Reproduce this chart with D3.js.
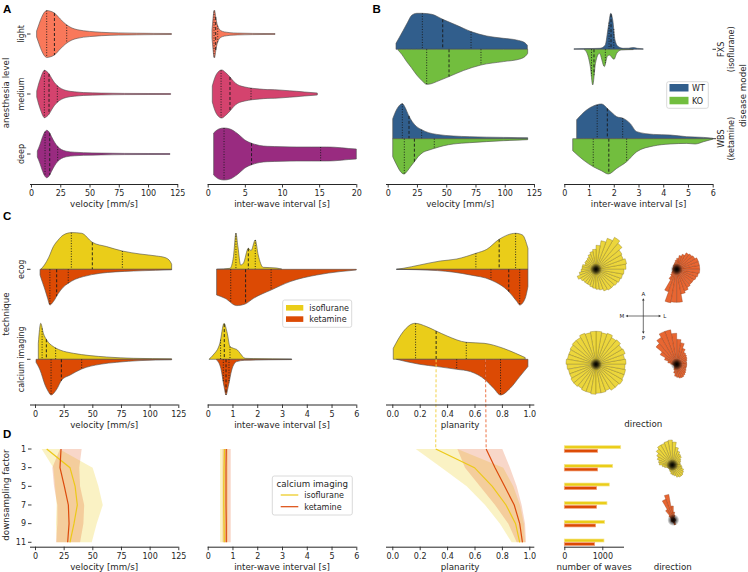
<!DOCTYPE html>
<html><head><meta charset="utf-8">
<script src="https://cdn.jsdelivr.net/npm/d3@7"></script>
<style>body{margin:0;background:#fff}svg{display:block}</style>
</head><body><script>
// ---------------- DATA ----------------
const anesthesiaLevels = ["light","medium","deep"];
const diseaseModels = ["FXS","WBS"];
const diseaseSub = ["(isoflurane)","(ketamine)"];
const techniques = ["ecog","calcium imaging"];
const downsampling = [1,3,5,7,9,11];

const velTicks = [0,25,50,75,100,125];
const iwiTicksA = [0,5,10,15,20];
const iwiTicks = [0,1,2,3,4,5,6];
const planTicks = [0,0.2,0.4,0.6,0.8,1.0];
const wavesTicks = [0,1000];

// Panel A: [value, relative density] profiles + quartiles
const velLight = [[4.8,3],[6,7],[7.5,12],[9,16.5],[11,21],[13.5,23.5],[16,23],[20,21],[25,15],[30,9.5],[35,6],[40,4.2],[50,2.6],[60,1.7],[75,1.1],[90,0.8],[105,0.6],[120,0.5]];
const velLightQ = [13.4,20,30.5];
const velMedium = [[4.9,3],[6.5,10],[8.5,17],[10,21.5],[11.5,23.7],[13.5,22.5],[15.5,20],[18,15],[20,11.5],[22.5,8.3],[26,5.3],[30,3.5],[37,2.2],[45,1.4],[60,0.9],[80,0.6],[100,0.5],[119.3,0.4]];
const velMediumQ = [11.4,15.4,22.5];
const velDeep = [[5.4,3],[7.5,9],[9.5,16],[11.5,21.5],[13.4,23.7],[15.5,22],[17.5,17.5],[20,12],[22.8,7.5],[26,4.5],[30,2.8],[37,1.8],[45,1.3],[60,0.9],[80,0.6],[100,0.5],[118.7,0.4]];
const velDeepQ = [12,16,22.8];
const iwiLight = [[0.58,4],[0.7,14],[0.8,21],[0.9,24],[1.0,21],[1.1,16],[1.3,9],[1.6,4.5],[2.0,2.6],[2.5,1.8],[3,1.3],[4,0.9],[6,0.6],[9.06,0.4]];
const iwiLightQ = [0.85,1.08,1.35];
const iwiMedium = [[0.62,8],[1.0,17],[1.4,22],[1.88,24],[2.4,21.5],[3.0,17],[3.5,12.5],[4.0,9.5],[5.0,7],[6,5.7],[7,5],[8,4.4],[9,4.3],[10,3.8],[11,3.2],[12,2.7],[13,2],[14.75,1]];
const iwiMediumQ = [1.8,3.0,5.83];
const iwiDeep = [[0.8,21],[1.5,25],[2.2,26],[3,25],[4,20.5],[5,14],[6,10.5],[7,8.5],[8,7.7],[10,7.3],[12,7],[14,7],[16,7],[17,6.8],[18,6.2],[19,5.5],[20,5]];
const iwiDeepQ = [2.2,5.9,15.2];

// Panel B
const fxsVelWT = [[7.1,6],[10,12],[13.3,19],[17,27],[20.5,34],[25,36],[29,36],[37.6,35],[47,30],[59,24],[71.2,17.7],[84.6,13.3],[98.8,11],[110,9.3],[117,6.7],[119.3,4]];
const fxsVelWTQ = [29.6,47,71.2];
const fxsVelKO = [[9,1],[12,5],[16.2,12.3],[20,18],[24.8,25.7],[29,31],[33.3,35],[37,34.5],[41.9,32.3],[52.4,27.3],[64.6,21.3],[79.7,15.7],[98.8,12.3],[113,9.7],[118.6,5.7],[119.6,4]];
const fxsVelKOQ = [33.3,52.4,79.7];
const wbsVelWT = [[4.3,20],[8,30],[12.5,35],[15,31],[17.6,24],[21,17],[24.8,12],[29,9],[35,6],[42,4.3],[56,2.7],[70,2],[99,1.3],[119.6,1]];
const wbsVelWTQ = [12.5,18.2,29];
const wbsVelKO = [[4.3,18],[8,27],[11,33],[13.9,35.3],[17,32],[19.5,28],[22.8,23],[26,18],[30.4,13.5],[35,11.5],[39.8,9.7],[48,7],[56,5.3],[70,4],[99,2],[119.6,1]];
const wbsVelKOQ = [14.2,22.8,39.8];
const fxsIwiWT = [[0.39,0.5],[1.0,0.7],[1.44,1],[1.65,4],[1.78,22.7],[1.88,36],[1.96,29],[2.05,9.3],[2.18,2.7],[2.38,1],[2.6,1.1],[2.79,1.7],[2.95,1],[3.19,0.5]];
const fxsIwiWTQ = [1.81,1.89,2.0];
const fxsIwiKO = [[0.81,0.3],[0.95,6],[1.05,17],[1.15,35.7],[1.26,14],[1.42,4],[1.62,17.3],[1.74,7],[1.82,5.7],[2.01,10],[2.12,4],[2.3,0.7],[2.79,0.3]];
const fxsIwiKOQ = [1.1,1.2,1.66];
const wbsIwiWT = [[0.5,19],[0.9,28.7],[1.2,33],[1.51,34.7],[1.74,30.3],[1.95,25.5],[2.12,22],[2.39,20.3],[2.66,15.3],[2.93,7],[3.6,4.3],[4.28,3.7],[4.95,2],[5.63,1.3],[6,0.5]];
const wbsIwiWTQ = [1.33,1.74,2.36];
const wbsIwiKO = [[0.34,12],[0.77,21.3],[1.17,28],[1.5,32],[1.78,35.3],[2.12,29.7],[2.52,23],[2.93,13],[3.6,7.3],[4.28,5.3],[4.95,4.7],[5.29,5.3],[5.63,3],[6,0.5]];
const wbsIwiKOQ = [1.17,1.8,2.52];

// Panel C
const ecogVelIso = [[5,0],[8.2,4.3],[12,12],[16,22.7],[20,29],[24.7,34.3],[32,36.7],[40.7,36],[50,27],[62.5,22.7],[76.2,18.3],[91.6,15.3],[106,13.3],[113.5,11.7],[118,7.7],[119.2,5]];
const ecogVelIsoQ = [31.7,50,76.2];
const ecogVelKet = [[4.4,5.7],[6.5,13],[8.8,20.7],[11,29],[13,35.7],[16,32.3],[20.4,24],[24.5,18],[29,14],[35,10],[42.2,7.3],[56.7,4],[70,2.6],[86,1.7],[105,1],[119.2,0.5]];
const ecogVelKetQ = [13,18.9,29];
const caVelIso = [[2.9,16],[5,36],[7.3,26],[10.2,19.3],[16,12.7],[21.8,9.3],[33.5,6],[48,3.7],[62.5,2.3],[86,1],[119.2,0.5]];
const caVelIsoQ = [6.2,9.9,18];
const caVelKet = [[0.9,3],[4.4,10.7],[8.8,25.7],[11.5,32],[14,35.7],[18.9,30],[23.3,20.7],[30.7,15.7],[40.7,9.7],[56.7,5],[71.3,3],[91.6,1.3],[119.2,0.5]];
const caVelKetQ = [14,23,40.7];
const ecogIwiIso = [[0.36,0],[0.9,1],[1.04,12.7],[1.14,36],[1.22,22.7],[1.33,4.3],[1.44,6],[1.64,21],[1.75,18.7],[1.92,29.3],[2.04,14.3],[2.24,2],[2.78,1.3],[2.9,0.7],[2.99,0.3]];
const ecogIwiIsoQ = [1.14,1.64,1.92];
const ecogIwiKet = [[0.36,25.7],[0.7,29],[1.17,36.3],[1.51,34.7],[1.85,29],[2.56,20.7],[3.33,12.3],[4.4,5.7],[5.34,2.3],[6,0.7]];
const ecogIwiKetQ = [0.93,1.53,2.56];
const caIwiIso = [[0.05,0],[0.22,4.3],[0.49,16],[0.66,36],[0.79,26],[0.9,12.7],[1.04,11],[1.2,9.3],[1.31,6],[1.51,1],[1.84,0.7],[3.39,0.3]];
const caIwiIsoQ = [0.52,0.67,0.9];
const caIwiKet = [[0.36,0.7],[0.53,9],[0.66,27.3],[0.74,35.7],[0.83,27.3],[0.97,10.7],[1.17,2.3],[1.5,1],[3.39,0.3]];
const caIwiKetQ = [0.63,0.74,0.86];
const ecogPlanIso = [[0.03,0],[0.08,1],[0.2,4.3],[0.35,8.3],[0.47,10.3],[0.61,16],[0.69,20],[0.78,30],[0.9,36],[0.95,34.3],[0.99,21]];
const ecogPlanIsoQ = [0.61,0.78,0.9];
const ecogPlanKet = [[0.03,0],[0.33,1.3],[0.57,5.7],[0.72,10.7],[0.85,22.3],[0.91,32.3],[0.93,35.7],[0.97,29],[0.99,17.3]];
const ecogPlanKetQ = [0.72,0.85,0.93];
const caPlanIso = [[0.007,11],[0.08,27.7],[0.165,36],[0.25,32.7],[0.32,28.3],[0.4,23.3],[0.54,17],[0.67,16],[0.81,11],[0.9,6],[0.97,1.7]];
const caPlanIsoQ = [0.17,0.32,0.54];
const caPlanKet = [[0.03,0],[0.2,5],[0.33,7.3],[0.47,10],[0.57,12.3],[0.68,20.7],[0.74,29],[0.79,35.7],[0.86,29],[0.93,17.3],[0.99,7.3]];
const caPlanKetQ = [0.47,0.68,0.79];

// direction roses: 36 bins of 10 deg, counter-clockwise from lateral (right)
const roseEcogIso = [30,31,29,30,34,37,33,29,24,20,18,16,14,13,13,12,14,14,15,17,20,18,17,17,17,18,19,20,21,23,24,24,25,26,27,28];
const roseEcogKet = [23,23,23,21,20,19,16,14,11,9,7,6,5,5,4,4,4,4,4,4,5,6,8,12,24,34,33,33,25,23,21,20,20,21,22,23];
const roseCaIso = [30,29,31,30,32,31,33,32,33,33,32,33,31,31,30,29,29,30,29,28,28,29,29,28,29,29,30,29,29,28,30,30,31,30,30,29];
const roseCaKet = [10,10,11,12,13,14,17,22,25,31,35,35,31,27,19,13,9,6,4,3,3,3,3,4,6,9,12,13,14,14,13,12,11,10,10,10];
const roseDIso = [8,8,9,10,12,13,15,18,23,25,24,23,23,21,18,16,14,13,10,8,6,5,5,5,6,7,9,10,11,13,14,14,13,12,10,9];
const roseDKet = [2,2,2,2,2,2,2,5,8,14,26,22,12,6,3,2,2,2,2,2,2,2,2,2,2,2,2,3,5,5,3,2,2,2,2,2];

// Panel D (per downsampling factor)
const dVelIsoMean = [10.2,30.5,35,36.9,34,30.5];
const dVelIsoLo = [5.8,16,17.5,18.9,18.3,18.9];
const dVelIsoHi = [21,50.3,55.3,59.1,53.8,49.5];
const dVelKetMean = [22.7,21.8,25.6,29.1,29.7,28.5];
const dVelKetLo = [21.8,15.1,16.6,19.5,19.5,18.3];
const dVelKetHi = [40.7,38.6,39.3,42.9,42.2,39.3];
const dIwiIsoMean = [0.68,0.66,0.65,0.65,0.66,0.67];
const dIwiIsoLo = [0.5,0.5,0.5,0.5,0.5,0.5];
const dIwiIsoHi = [0.82,0.82,0.82,0.82,0.82,0.82];
const dIwiKetMean = [0.75,0.74,0.74,0.74,0.75,0.75];
const dIwiKetLo = [0.6,0.6,0.6,0.6,0.6,0.6];
const dIwiKetHi = [0.93,0.93,0.93,0.93,0.93,0.93];
const dPlanIsoMean = [0.317,0.60,0.73,0.83,0.90,0.93];
const dPlanIsoLo = [0.171,0.36,0.543,0.677,0.786,0.871];
const dPlanIsoHi = [0.475,0.81,0.883,0.932,0.961,0.969];
const dPlanKetMean = [0.685,0.75,0.82,0.89,0.93,0.95];
const dPlanKetLo = [0.475,0.531,0.64,0.75,0.847,0.908];
const dPlanKetHi = [0.803,0.859,0.908,0.944,0.969,0.976];
const dWavesIso = [1484,1273,1184,1123,1062,1044];
const dWavesKet = [878,878,851,851,825,799];

// ---------------- STYLE ----------------
const TXT = "#262626";
const FONT = '"DejaVu Sans", sans-serif';
const levelColors = ["#f9785a","#d4436e","#992b80"];
const wtColor = "#315e8c", koColor = "#72be3e";
const isoColor = "#eacd19", ketColor = "#dc4a04";
const roseIsoColor = "#ecd63c", roseKetColor = "#e86632";

const svg = d3.select("body").append("svg").attr("width",748).attr("height",572)
  .attr("font-family",FONT);
const defs = svg.append("defs");
const rg = defs.append("radialGradient").attr("id","rc");
rg.append("stop").attr("offset","0").attr("stop-color","#000").attr("stop-opacity",1);
rg.append("stop").attr("offset","0.35").attr("stop-color","#000").attr("stop-opacity",0.75);
rg.append("stop").attr("offset","1").attr("stop-color","#000").attr("stop-opacity",0);

// ---------------- SCALES ----------------
const xA1 = d3.scaleLinear([0,125],[31,177.3]);
const xA2 = d3.scaleLinear([0,20],[207.7,356.3]);
const xB1 = d3.scaleLinear([0,125],[387.7,534]);
const xB2 = d3.scaleLinear([0,6],[564.3,712.7]);
const xC1 = d3.scaleLinear([0,125],[35,178.3]);
const xC2 = d3.scaleLinear([0,6],[207.7,356.3]);
const xC3 = d3.scaleLinear([0,1],[392.3,529.3]);
const xD4 = d3.scaleLinear([0,1000],[564.3,602.3]);
const rowA = d3.scalePoint(anesthesiaLevels,[34,154]);
const rowB = d3.scalePoint(diseaseModels,[49.3,138.7]);
const rowC = d3.scalePoint(techniques,[269.3,359.3]);
const yD = d3.scaleLinear([1,11],[449,542.3]);
const wScale = d3.scaleLinear([0,36],[0,36]);
const rScale = d3.scaleLinear([0,40],[0,40]);

// ---------------- HELPERS ----------------
function interp(data, v){
  for (let i=0;i<data.length-1;i++){
    const [a,da]=data[i],[b,db]=data[i+1];
    if (v>=a && v<=b) return da+(db-da)*(v-a)/(b-a);
  }
  return 0;
}
function violin(data, q, x, cy, side, color){
  const top = d => side<=0 ? cy - wScale(d[1]) : cy;
  const bot = d => side>=0 ? cy + wScale(d[1]) : cy;
  const area = d3.area().curve(d3.curveMonotoneX).x(d=>x(d[0])).y0(bot).y1(top);
  svg.append("path").attr("d",area(data)).attr("fill",color)
    .attr("stroke","#4d4d4d").attr("stroke-width",0.6).attr("stroke-linejoin","round");
  q.forEach((v,i)=>{
    const h = wScale(interp(data,v));
    svg.append("line").attr("x1",x(v)).attr("x2",x(v))
      .attr("y1", side<=0 ? cy-h : cy).attr("y2", side>=0 ? cy+h : cy)
      .attr("stroke","#1a1a1a").attr("stroke-width",0.9)
      .attr("stroke-dasharray", i===1 ? "3,2" : "1,1.6");
  });
}
function xAxis(scale, y, ticks, fmt, x0, x1, title){
  const g = svg.append("g").attr("transform",`translate(0,${y})`)
    .call(d3.axisBottom(scale).tickValues(ticks).tickFormat(fmt).tickSize(3.5).tickPadding(3));
  g.attr("font-family",FONT).attr("font-size",8);
  g.select(".domain").attr("d",`M${x0},0.5H${x1}`).attr("stroke",TXT).attr("stroke-width",1);
  g.selectAll(".tick line").attr("stroke",TXT).attr("stroke-width",0.9);
  g.selectAll(".tick text").attr("fill",TXT);
  if (title) svg.append("text").attr("x",(x0+x1)/2).attr("y",y+23).attr("text-anchor","middle")
    .attr("font-size",8.7).attr("fill",TXT).text(title);
}
function vText(x, y, s, size){
  svg.append("text").attr("transform",`translate(${x},${y}) rotate(-90)`).attr("text-anchor","middle")
    .attr("dy","0.35em").attr("font-size",size).attr("fill",TXT).text(s);
}
function hTick(x1,x2,y){
  svg.append("line").attr("x1",x1).attr("x2",x2).attr("y1",y).attr("y2",y).attr("stroke",TXT).attr("stroke-width",0.9);
}
function panelLabel(s,x,y){
  svg.append("text").attr("x",x).attr("y",y).attr("font-family",'"Liberation Sans", Arial, sans-serif')
    .attr("font-weight","bold").attr("font-size",11.5).attr("fill","#000").text(s);
}
function legendBox(x,y,w,h){
  svg.append("rect").attr("x",x).attr("y",y).attr("width",w).attr("height",h).attr("rx",2)
    .attr("fill","#fff").attr("fill-opacity",0.85).attr("stroke","#d0d0d0").attr("stroke-width",0.8);
}
function rose(cx, cy, vals, fill, edge){
  const g = svg.append("g").attr("transform",`translate(${cx},${cy})`);
  const step = 2*Math.PI/vals.length;
  const arc = d3.arc().innerRadius(0);
  vals.forEach((v,i)=>{
    g.append("path").attr("d",arc({outerRadius:rScale(v),startAngle:Math.PI/2-(i+1)*step,endAngle:Math.PI/2-i*step}))
      .attr("fill",fill).attr("stroke",edge).attr("stroke-width",0.4).attr("stroke-opacity",0.8);
  });
  g.append("circle").attr("r",6).attr("fill","url(#rc)");
}
function band(lo, hi, x, color, op){
  const pts = downsampling.map((f,i)=>({f, lo:lo[i], hi:hi[i]}));
  svg.append("path").attr("d", d3.area().y(d=>yD(d.f)).x0(d=>x(d.lo)).x1(d=>x(d.hi))(pts))
    .attr("fill",color).attr("fill-opacity",op);
}
function meanLine(vals, x, color){
  const pts = downsampling.map((f,i)=>[f, vals[i]]);
  svg.append("path").attr("d", d3.line().x(d=>x(d[1])).y(d=>yD(d[0]))(pts))
    .attr("fill","none").attr("stroke",color).attr("stroke-width",1.2);
}

// ---------------- PANEL A ----------------
panelLabel("A",3,13);
vText(6,93,"anesthesia level",8.7);
const levelVel=[velLight,velMedium,velDeep], levelVelQ=[velLightQ,velMediumQ,velDeepQ];
const levelIwi=[iwiLight,iwiMedium,iwiDeep], levelIwiQ=[iwiLightQ,iwiMediumQ,iwiDeepQ];
anesthesiaLevels.forEach((lv,i)=>{
  violin(levelVel[i], levelVelQ[i], xA1, rowA(lv), 0, levelColors[i]);
  violin(levelIwi[i], levelIwiQ[i], xA2, rowA(lv), 0, levelColors[i]);
  vText(20.7, rowA(lv), lv, 8);
  hTick(27, 30.5, rowA(lv));
});
xAxis(xA1,184,velTicks,d3.format("d"),30,178,"velocity [mm/s]");
xAxis(xA2,184,iwiTicksA,d3.format("d"),207.7,356.3,"inter-wave interval [s]");

// ---------------- PANEL B ----------------
panelLabel("B",372.5,13);
const bVel=[[fxsVelWT,fxsVelWTQ,fxsVelKO,fxsVelKOQ],[wbsVelWT,wbsVelWTQ,wbsVelKO,wbsVelKOQ]];
const bIwi=[[fxsIwiWT,fxsIwiWTQ,fxsIwiKO,fxsIwiKOQ],[wbsIwiWT,wbsIwiWTQ,wbsIwiKO,wbsIwiKOQ]];
diseaseModels.forEach((m,i)=>{
  const cy=rowB(m);
  violin(bVel[i][0],bVel[i][1],xB1,cy,-1,wtColor);
  violin(bVel[i][2],bVel[i][3],xB1,cy,1,koColor);
  violin(bIwi[i][0],bIwi[i][1],xB2,cy,-1,wtColor);
  violin(bIwi[i][2],bIwi[i][3],xB2,cy,1,koColor);
  hTick(712.5,716,cy);
  vText(721,cy,m,8);
  vText(731,cy,diseaseSub[i],8);
});
vText(742.5,95.5,"disease model",8.7);
xAxis(xB1,184,velTicks,d3.format("d"),386,534.3,"velocity [mm/s]");
xAxis(xB2,184,iwiTicks,d3.format("d"),564.3,713,"inter-wave interval [s]");
legendBox(666.7,81.7,41.6,26.6);
[["WT",wtColor,84],["KO",koColor,96.8]].forEach(([t,c,y])=>{
  svg.append("rect").attr("x",669.5).attr("y",y).attr("width",19).attr("height",7.5).attr("fill",c);
  svg.append("text").attr("x",692).attr("y",y+6.8).attr("font-size",8).attr("fill",TXT).text(t);
});

// ---------------- PANEL C ----------------
panelLabel("C",3,219.5);
vText(6,314,"technique",8.7);
const cVel=[[ecogVelIso,ecogVelIsoQ,ecogVelKet,ecogVelKetQ],[caVelIso,caVelIsoQ,caVelKet,caVelKetQ]];
const cIwi=[[ecogIwiIso,ecogIwiIsoQ,ecogIwiKet,ecogIwiKetQ],[caIwiIso,caIwiIsoQ,caIwiKet,caIwiKetQ]];
const cPlan=[[ecogPlanIso,ecogPlanIsoQ,ecogPlanKet,ecogPlanKetQ],[caPlanIso,caPlanIsoQ,caPlanKet,caPlanKetQ]];
const cRoses=[[roseEcogIso,roseEcogKet],[roseCaIso,roseCaKet]];
techniques.forEach((t,i)=>{
  const cy=rowC(t);
  [[cVel,xC1],[cIwi,xC2],[cPlan,xC3]].forEach(([d,x])=>{
    violin(d[i][0],d[i][1],x,cy,-1,isoColor);
    violin(d[i][2],d[i][3],x,cy,1,ketColor);
  });
  vText(20.7,cy,t,8);
  hTick(27,30.5,cy);
  rose(596,cy+(i===0?0:5),cRoses[i][0],roseIsoColor,"#6e5f12");
  rose(676.7,cy+(i===0?0:5),cRoses[i][1],roseKetColor,"#7a2c08");
});
// connectors from calcium imaging medians to downsampling factor 1
[[caPlanIsoQ[1],dPlanIsoMean[0],"#f3d34a"],[caPlanKetQ[1],dPlanKetMean[0],"#ee7446"]].forEach(([a,b,c])=>{
  svg.append("line").attr("x1",xC3(a)).attr("x2",xC3(b)).attr("y1",rowC("calcium imaging")).attr("y2",yD(1))
    .attr("stroke",c).attr("stroke-width",1).attr("stroke-dasharray","3,2");
});
xAxis(xC1,404.5,velTicks,d3.format("d"),30,178.3,"velocity [mm/s]");
xAxis(xC2,404.5,iwiTicks,d3.format("d"),207.7,356.3,"inter-wave interval [s]");
xAxis(xC3,404.5,planTicks,d3.format(".1f"),386,534.3,"planarity");
svg.append("text").attr("x",643.3).attr("y",427.3).attr("text-anchor","middle").attr("font-size",8.7).attr("fill",TXT).text("direction");
legendBox(282.7,300,69,27.3);
[["isoflurane",isoColor,305],["ketamine",ketColor,316.3]].forEach(([t,c,y])=>{
  svg.append("rect").attr("x",286).attr("y",y).attr("width",17.3).attr("height",5.6).attr("fill",c);
  svg.append("text").attr("x",309.3).attr("y",y+5.9).attr("font-size",8).attr("fill",TXT).text(t);
});
// compass
const comp = svg.append("g").attr("transform","translate(643.3,316)");
const cLines=[[0,-16,0,16],[-16,0,16,0]];
cLines.forEach(l=>comp.append("line").attr("x1",l[0]).attr("y1",l[1]).attr("x2",l[2]).attr("y2",l[3]).attr("stroke","#333").attr("stroke-width",0.7));
[[0,-16,0],[0,16,180],[-16,0,-90],[16,0,90]].forEach(([x,y,r])=>{
  comp.append("path").attr("d","M0,-1.8L1.3,0.6L-1.3,0.6Z").attr("fill","#333").attr("transform",`translate(${x},${y}) rotate(${r})`);
});
[["A",0,-20.5],["P",0,23.5],["M",-21.5,1.8],["L",21.5,1.8]].forEach(([t,x,y])=>{
  comp.append("text").attr("x",x).attr("y",y).attr("text-anchor","middle").attr("font-size",5.5).attr("fill",TXT).text(t);
});

// ---------------- PANEL D ----------------
panelLabel("D",3,437.5);
vText(6,495,"downsampling factor",8.7);
downsampling.forEach(f=>{
  svg.append("text").attr("x",26).attr("y",yD(f)).attr("dy","0.35em").attr("text-anchor","end").attr("font-size",8).attr("fill",TXT).text(f);
  hTick(28,31.5,yD(f));
});
band(dVelIsoLo,dVelIsoHi,xC1,"#efd43c",0.3);
band(dVelKetLo,dVelKetHi,xC1,"#e0561e",0.24);
meanLine(dVelIsoMean,xC1,"#ecc918");
meanLine(dVelKetMean,xC1,"#dc4a0c");
band(dIwiIsoLo,dIwiIsoHi,xC2,"#efd43c",0.3);
band(dIwiKetLo,dIwiKetHi,xC2,"#e0561e",0.24);
meanLine(dIwiIsoMean,xC2,"#ecc918");
meanLine(dIwiKetMean,xC2,"#dc4a0c");
band(dPlanIsoLo,dPlanIsoHi,xC3,"#efd43c",0.3);
band(dPlanKetLo,dPlanKetHi,xC3,"#e0561e",0.24);
meanLine(dPlanIsoMean,xC3,"#ecc918");
meanLine(dPlanKetMean,xC3,"#dc4a0c");
downsampling.forEach((f,i)=>{
  svg.append("rect").attr("x",xD4(0)).attr("y",yD(f)-3.3).attr("width",xD4(dWavesIso[i])-xD4(0)).attr("height",3)
    .attr("fill",isoColor).attr("stroke","#f6e68e").attr("stroke-width",0.7);
  svg.append("rect").attr("x",xD4(0)).attr("y",yD(f)+0.3).attr("width",xD4(dWavesKet[i])-xD4(0)).attr("height",3)
    .attr("fill",ketColor).attr("stroke","#f2a07c").attr("stroke-width",0.7);
});
rose(672.3,465,roseDIso,roseIsoColor,"#6e5f12");
rose(673.3,520,roseDKet,roseKetColor,"#7a2c08");
xAxis(xC1,546.7,velTicks,d3.format("d"),30,178.3,"velocity [mm/s]");
xAxis(xC2,546.7,iwiTicks,d3.format("d"),207.7,356.3,"inter-wave interval [s]");
xAxis(xC3,546.7,planTicks,d3.format(".1f"),386,534.3,"planarity");
xAxis(xD4,546.7,wavesTicks,d3.format("d"),564.3,624,"number of waves");
svg.append("text").attr("x",672.7).attr("y",569.8).attr("text-anchor","middle").attr("font-size",8.7).attr("fill",TXT).text("direction");
legendBox(272.3,476,80,39);
svg.append("text").attr("x",312.3).attr("y",487).attr("text-anchor","middle").attr("font-size",8.7).attr("fill",TXT).text("calcium imaging");
[["isoflurane","#ecc918",495],["ketamine","#dc4a0c",506.7]].forEach(([t,c,y])=>{
  svg.append("line").attr("x1",280.7).attr("x2",298.3).attr("y1",y).attr("y2",y).attr("stroke",c).attr("stroke-width",1.2);
  svg.append("text").attr("x",304.3).attr("y",y).attr("dy","0.35em").attr("font-size",8).attr("fill",TXT).text(t);
});
</script></body></html>
